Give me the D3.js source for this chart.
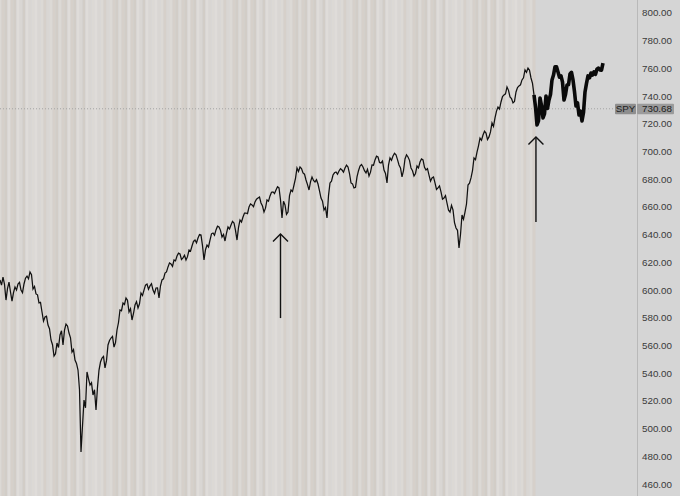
<!DOCTYPE html>
<html><head><meta charset="utf-8">
<script src="https://cdn.jsdelivr.net/npm/d3@7"></script>
<style>html,body{margin:0;padding:0;background:#d5d5d5;} svg{display:block}</style>
</head><body><svg id="c" width="680" height="496"></svg>
<script>
// SPY closes: even-numbered sessions...
const evenSessions = [
607.2,609.3,592.7,605.7,592.0,602.1,604.3,599.9,604.3,610.0,
612.9,600.7,597.1,590.6,584.1,580.5,574.7,563.9,552.3,561.7,
567.5,560.3,575.4,568.9,555.2,549.4,542.2,483.1,520.6,540.8,
531.4,524.2,513.4,542.2,550.9,543.7,560.3,565.3,558.8,571.1,
585.5,590.6,594.2,584.1,578.3,589.1,587.0,597.8,599.9,604.3,
602.9,599.9,601.4,594.2,607.2,612.2,616.6,618.7,621.6,624.5,
625.9,623.1,621.6,628.8,631.7,636.0,637.5,639.6,621.6,632.4,
636.0,641.1,643.3,645.4,638.2,635.3,645.4,646.9,648.3,636.0,
650.5,652.6,655.5,659.8,661.3,663.5,666.3,662.7,656.2,664.9,
667.8,670.7,672.1,673.6,651.9,661.3,656.2,672.1,675.7,688.0,
688.7,684.4,679.3,672.1,681.5,677.9,676.4,666.3,657.7,651.9,
677.2,682.9,685.1,685.8,686.5,688.0,688.7,677.2,673.6,681.5,
689.4,688.7,684.4,682.2,690.2,693.8,695.9,691.6,686.5,677.2,
695.2,696.6,697.4,690.2,681.5,694.5,695.9,688.0,682.2,689.4,
692.3,693.8,686.5,682.9,680.8,677.2,673.6,670.7,666.3,662.7,
656.2,657.7,644.7,630.3,654.1,656.2,675.7,680.8,695.2,699.5,
709.6,711.8,713.2,710.4,720.5,724.1,732.0,735.6,740.7,746.4,
739.2,734.9,742.8,747.2,751.5,758.7,760.1,752.9,740.7,
719.0,738.5,724.1,739.9,737.0,751.5,760.9,757.3,754.4,737.0,
747.8,755.8,751.5,732.7,726.2,721.9,742.8,754.4,756.5,757.3,
759.4,758.7,763.7
];
// ...and the odd-numbered sessions in between
const oddSessions = [
603.5,604.0,601.0,598.5,598.0,600.0,605.5,598.0,608.5,608.0,
611.0,602.5,596.5,591.0,577.5,581.0,572.0,560.5,554.0,558.5,
570.5,571.0,574.0,565.5,557.0,547.0,528.0,502.0,515.0,536.0,
533.0,528.0,530.0,548.0,552.0,549.0,563.5,566.5,562.0,576.5,
585.0,589.5,592.5,586.5,583.0,591.5,590.0,596.0,603.5,600.5,
604.5,597.5,601.5,603.0,608.0,613.0,619.5,617.0,621.0,626.5,
622.0,625.0,624.0,628.0,635.0,634.0,640.0,632.0,629.0,631.0,
640.5,639.5,646.0,643.0,640.0,641.0,644.0,649.5,643.0,645.0,
649.0,655.5,655.0,662.0,660.0,665.5,667.0,660.5,659.0,664.0,
670.5,669.5,674.5,665.0,664.0,654.5,668.0,671.0,680.5,685.5,
687.5,683.5,676.0,678.0,679.0,679.5,671.5,664.0,659.5,668.0,
678.5,684.5,683.5,687.5,685.0,690.0,684.0,676.5,674.0,686.0,
690.5,686.0,687.0,685.0,690.0,696.5,692.0,693.0,684.0,690.0,
693.5,698.5,694.0,688.0,686.0,697.5,693.5,686.0,684.0,688.0,
694.5,688.5,687.5,678.5,681.5,672.5,675.0,665.5,668.0,657.5,
661.0,648.5,643.0,640.0,651.0,662.0,677.0,686.0,694.0,704.0,
708.0,714.5,708.5,714.0,718.0,729.0,730.5,739.5,741.5,744.0,
738.0,736.0,746.0,748.0,753.0,757.0,758.5,749.0,
732.0,722.0,733.0,727.0,731.0,741.0,755.0,761.0,753.5,750.0,
741.0,748.0,757.0,743.0,735.0,729.0,728.0,749.0,753.0,755.0,
755.5,760.0,758.5
];
const recentStart = 178;          // even-session index where the recent (bold) segment starts
const yTicks = [460,480,500,520,540,560,580,600,620,640,660,680,700,720,740,760,780,800];
const tagSymbol = "SPY";
const lastValue = 730.68;
const arrows = [
  {session: 187, tip: 640.3, tail: 579.7},
  {session: 357.3, tip: 710.4, tail: 649.0}
];

// merged daily table
const series = evenSessions.flatMap((v, i) => i < oddSessions.length ? [v, oddSessions[i]] : [v])
  .map((v, i) => ({i, v}));
const split = recentStart * 2;

const svg = d3.select("#c");
const W = 680, H = 496, axisX = 637;
const x = d3.scaleLinear().domain([0, series.length - 1]).range([0, 603]);
const y = d3.scaleLinear().domain([460, 800]).range([484, 12.7]);

svg.append("rect").attr("width", W).attr("height", H).attr("fill", "#d5d5d5");
// striped history region
const stripeCols = ["#dcd9d5", "#d2cdc7", "#d9d6d3", "#d6d0ca", "#dfdcd9"];
const step = x(2) - x(0);
svg.append("g").selectAll("rect")
  .data(d3.range(0, split + 1, 2))
  .join("rect")
  .attr("x", i => Math.max(0, x(i) - step / 2))
  .attr("width", i => x(i) + step / 2 - Math.max(0, x(i) - step / 2))
  .attr("y", 0).attr("height", H)
  .attr("fill", i => { const k = i / 2; return stripeCols[(k * 3 + (k >> 2)) % stripeCols.length]; });

svg.append("line").attr("x1", axisX + 0.5).attr("x2", axisX + 0.5)
  .attr("y1", 0).attr("y2", H).attr("stroke", "#b9b9b9").attr("stroke-width", 1);

svg.append("line").attr("x1", 0).attr("x2", 615)
  .attr("y1", y(lastValue)).attr("y2", y(lastValue))
  .attr("stroke", "#a3a3a3").attr("stroke-width", 1).attr("stroke-dasharray", "1,2");

const line = d3.line().x(d => x(d.i)).y(d => y(d.v));
svg.append("path").datum(series.slice(0, split + 1))
  .attr("d", line).attr("fill", "none").attr("stroke", "#111")
  .attr("stroke-width", 1.25);
svg.append("path").datum(series.slice(split))
  .attr("d", line).attr("fill", "none").attr("stroke", "#0a0a0a")
  .attr("stroke-width", 3.6).attr("stroke-linejoin", "round");

const ax = svg.append("g").attr("transform", `translate(${axisX},0)`)
  .call(d3.axisRight(y).tickValues(yTicks).tickFormat(d3.format(".2f")).tickSize(0).tickPadding(5));
ax.select(".domain").remove();
ax.selectAll("text").attr("font-family", "Liberation Sans, Arial, sans-serif")
  .attr("font-size", "9.8px").attr("fill", "#3a3a3a");

const ty = y(lastValue);
svg.append("rect").attr("x", 615).attr("y", ty - 5).attr("width", 21).attr("height", 10.5)
  .attr("fill", "#8e8e8e").attr("rx", 1);
svg.append("rect").attr("x", 637).attr("y", ty - 5).attr("width", 37).attr("height", 10.5)
  .attr("fill", "#9b9b9b").attr("rx", 1);
svg.append("text").attr("x", 625.5).attr("y", ty + 3.5).attr("text-anchor", "middle")
  .attr("font-family", "Liberation Sans, Arial, sans-serif").attr("font-size", "9.8px")
  .attr("fill", "#1e1e1e").text(tagSymbol);
svg.append("text").attr("x", 642).attr("y", ty + 3.5)
  .attr("font-family", "Liberation Sans, Arial, sans-serif").attr("font-size", "9.8px")
  .attr("fill", "#1e1e1e").text(d3.format(".2f")(lastValue));

const ag = svg.append("g").attr("stroke", "#111").attr("stroke-width", 1.4).attr("fill", "none");
arrows.forEach(a => {
  const ax0 = x(a.session), yt = y(a.tip), yb = y(a.tail);
  ag.append("line").attr("x1", ax0).attr("x2", ax0).attr("y1", yb).attr("y2", yt);
  ag.append("polyline").attr("points", `${ax0 - 7.5},${yt + 7.5} ${ax0},${yt} ${ax0 + 7.5},${yt + 7.5}`);
});
</script></body></html>
